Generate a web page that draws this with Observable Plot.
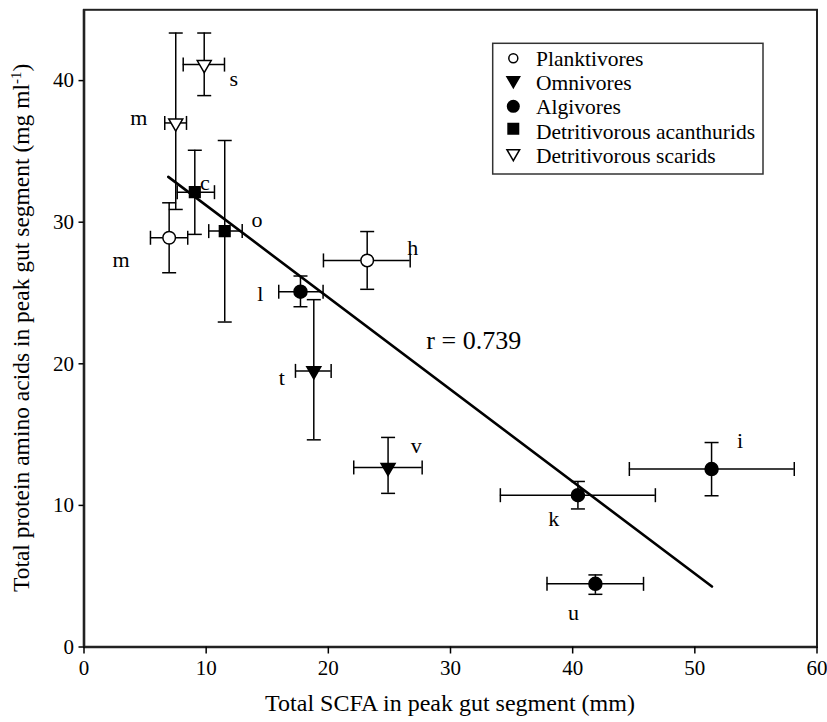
<!DOCTYPE html>
<html><head><meta charset="utf-8">
<script src="https://cdn.jsdelivr.net/npm/d3@7"></script>
<script src="https://cdn.jsdelivr.net/npm/@observablehq/plot@0.6"></script>
<style>body{margin:0;background:#fff}#chart{width:827px;height:722px}</style>
</head><body><div id="chart"></div>
<script>
// ---------- data ----------
const species   = ["m","h","t","v","l","k","i","u","c","o","s","m"];
const groups    = ["Planktivores","Planktivores","Omnivores","Omnivores","Algivores","Algivores","Algivores","Algivores",
                   "Detritivorous acanthurids","Detritivorous acanthurids","Detritivorous scarids","Detritivorous scarids"];
const scfa      = [6.97, 23.18, 18.81, 24.89, 17.72, 40.43, 51.37, 41.86, 9.07, 11.52, 9.84, 7.51];
const scfaLo    = [5.44, 19.6, 17.31, 22.08, 15.94, 34.08, 44.64, 37.9, 7.63, 10.21, 8.12, 6.61];
const scfaHi    = [8.49, 26.7, 20.23, 27.68, 19.57, 46.77, 58.14, 45.8, 10.68, 12.95, 11.5, 8.39];
const protein   = [28.9, 27.3, 19.5, 12.68, 25.09, 10.72, 12.57, 4.46, 32.12, 29.37, 41.13, 37.01];
const proteinLo = [26.43, 25.26, 14.63, 10.85, 24.03, 9.75, 10.68, 3.72, 29.14, 22.95, 38.94, 30.9];
const proteinHi = [31.37, 29.34, 24.53, 14.8, 26.2, 11.69, 14.44, 5.09, 35.08, 35.77, 43.36, 43.36];
const labelX    = [3.04, 26.9, 16.2, 27.2, 14.44, 38.45, 53.7, 40.06, 9.89, 14.17, 12.26, 4.49];
const labelY    = [27.3, 28.2, 19.0, 14.2, 24.9, 9.04, 14.56, 2.43, 32.78, 30.15, 40.14, 37.36];
const fitX = [6.9, 51.4];
const fitY = [33.2, 4.27];
const fitLabel = "r = 0.739";
const fitLabelX = [31.9];
const fitLabelY = [21.6];
const xTicks = [0, 10, 20, 30, 40, 50, 60];
const yTicks = [0, 10, 20, 30, 40];
const legendOrder = ["Planktivores","Omnivores","Algivores","Detritivorous acanthurids","Detritivorous scarids"];
const xTitle = "Total SCFA in peak gut segment (mm)";
const yTitle = "Total protein amino acids in peak gut segment (mg ml";
const yTitleSup = "-1";

// ---------- build ----------
const rows = species.map((s, i) => ({
  sp: s, group: groups[i], x: scfa[i], xlo: scfaLo[i], xhi: scfaHi[i],
  y: protein[i], ylo: proteinLo[i], yhi: proteinHi[i], lx: labelX[i], ly: labelY[i]
}));
const fit = fitX.map((x, i) => ({x, y: fitY[i]}));

const hcap = {draw(ctx, size) { const w = Math.sqrt(size / Math.PI); ctx.moveTo(-w, 0); ctx.lineTo(w, 0); }};
const vcap = {draw(ctx, size) { const w = Math.sqrt(size / Math.PI); ctx.moveTo(0, -w); ctx.lineTo(0, w); }};

const style = {
  Planktivores: {symbol: "circle", fill: "white", r: 6.3, rotate: 0},
  Omnivores: {symbol: "triangle", fill: "black", r: 5.2, rotate: 180},
  Algivores: {symbol: "circle", fill: "black", r: 6.5, rotate: 0},
  "Detritivorous acanthurids": {symbol: "square", fill: "black", r: 6.0, rotate: 0},
  "Detritivorous scarids": {symbol: "triangle", fill: "white", r: 5.2, rotate: 180}
};

const FONT = "'Liberation Serif', 'Times New Roman', serif";
const bar = {stroke: "black", strokeWidth: 1.5};

const pointMarks = legendOrder.map(g => Plot.dot(rows.filter(d => d.group === g), {
  x: "x", y: "y", symbol: style[g].symbol, r: style[g].r, rotate: style[g].rotate,
  fill: style[g].fill, stroke: "black", strokeWidth: 1.5
}));

const chart = Plot.plot({
  width: 827, height: 722,
  marginLeft: 83.5, marginRight: 10.5, marginTop: 9.3, marginBottom: 75.5,
  x: {domain: [0, 60]},
  y: {domain: [0, 45]},
  style: {fontFamily: FONT, fontSize: "21px", color: "black", background: "white"},
  marks: [
    Plot.frame({stroke: "#222", strokeWidth: 2}),
    Plot.ruleY([0], {stroke: "#222", strokeWidth: 2.6}),
    Plot.ruleX([0], {stroke: "#222", strokeWidth: 2.6}),
    Plot.axisX({ticks: xTicks, tickSize: 7, tickPadding: 6, label: null, fontSize: 21, strokeWidth: 1.5}),
    Plot.axisY({ticks: yTicks, tickSize: 5, tickPadding: 5, label: null, fontSize: 21, strokeWidth: 1.5}),
    Plot.line(fit, {x: "x", y: "y", stroke: "black", strokeWidth: 2.6}),
    Plot.ruleX(rows, {x: "x", y1: "ylo", y2: "yhi", ...bar}),
    Plot.ruleY(rows, {y: "y", x1: "xlo", x2: "xhi", ...bar}),
    Plot.dot(rows, {x: "x", y: "ylo", symbol: hcap, r: 7, fill: "none", ...bar}),
    Plot.dot(rows, {x: "x", y: "yhi", symbol: hcap, r: 7, fill: "none", ...bar}),
    Plot.dot(rows, {x: "xlo", y: "y", symbol: vcap, r: 7, fill: "none", ...bar}),
    Plot.dot(rows, {x: "xhi", y: "y", symbol: vcap, r: 7, fill: "none", ...bar}),
    ...pointMarks,
    Plot.text(rows, {x: "lx", y: "ly", text: "sp", fontSize: 22, textAnchor: "middle", lineAnchor: "middle", fill: "black"}),
    Plot.text([fitLabel], {x: fitLabelX, y: fitLabelY, text: d => d, fontSize: 26, textAnchor: "middle", lineAnchor: "middle", fill: "black"})
  ]
});
document.getElementById("chart").appendChild(chart);

// ---------- titles & legend ----------
const svg = d3.select(chart);
svg.append("text")
  .attr("x", (83.5 + 816.5) / 2).attr("y", 711)
  .attr("text-anchor", "middle").attr("font-family", FONT).attr("font-size", 24).attr("fill", "black")
  .text(xTitle);
const yt = svg.append("text")
  .attr("transform", `translate(29,${(9.3 + 646.5) / 2}) rotate(-90)`)
  .attr("text-anchor", "middle").attr("font-family", FONT).attr("font-size", 23.5).attr("fill", "black");
yt.append("tspan").text(yTitle);
yt.append("tspan").attr("dy", -8).attr("font-size", 15).text(yTitleSup);
yt.append("tspan").attr("dy", 8).text(")");

const lg = svg.append("g").attr("transform", "translate(492.7,43.3)");
lg.append("rect").attr("width", 270.3).attr("height", 130.7).attr("fill", "white").attr("stroke", "#333").attr("stroke-width", 1.5);
const symY = [15, 37, 63, 85.5, 110];
const txtY = [22.5, 46.8, 71.1, 95.4, 119.7];
const legSym = {
  Planktivores: {type: d3.symbolCircle, size: Math.PI * 4.5 * 4.5, fill: "white", rot: 0},
  Omnivores: {type: d3.symbolTriangle, size: 70, fill: "black", rot: 180},
  Algivores: {type: d3.symbolCircle, size: Math.PI * 5.8 * 5.8, fill: "black", rot: 0},
  "Detritivorous acanthurids": {type: d3.symbolSquare, size: 110, fill: "black", rot: 0},
  "Detritivorous scarids": {type: d3.symbolTriangle, size: 70, fill: "white", rot: 180}
};
legendOrder.forEach((g, i) => {
  const s = legSym[g];
  lg.append("path").attr("d", d3.symbol(s.type, s.size)())
    .attr("transform", `translate(20.6,${symY[i]}) rotate(${s.rot})`)
    .attr("fill", s.fill).attr("stroke", "black").attr("stroke-width", 1.5);
  lg.append("text").attr("x", 43.3).attr("y", txtY[i]).attr("text-anchor", "start")
    .attr("font-family", FONT).attr("font-size", 21.5).attr("fill", "black").text(g);
});
</script>
</body></html>
